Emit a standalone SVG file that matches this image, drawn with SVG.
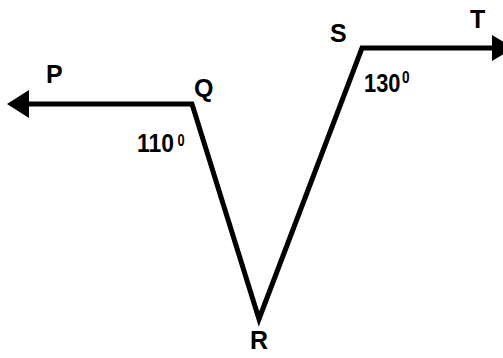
<svg xmlns="http://www.w3.org/2000/svg" width="503" height="358" viewBox="0 0 503 358">
<style>
.ln{fill:none;stroke:#000;stroke-width:5;stroke-linejoin:miter;stroke-linecap:butt}
.lbl{font-family:"Liberation Sans",Arial,sans-serif;font-weight:bold;font-size:25px;fill:#000}
.ang{font-family:"Liberation Sans",Arial,sans-serif;font-weight:bold;font-size:26px;fill:#000}
.sup{font-family:"Liberation Sans",Arial,sans-serif;font-weight:bold;font-size:16px;fill:#000}
.head{fill:#000}
</style>
<rect width="503" height="358" fill="#fff"/>
<g id="connectors">
<polyline class="ln" points="28,104 192,104 259,319 362,48 492,48"/>
<polygon class="head" points="7,104 29,90 29,118"/>
<polygon class="head" points="514,48 492,35 492,61"/>
</g>
<g id="P"><text class="lbl" x="46" y="83">P</text></g>
<g id="Q"><text class="lbl" x="194" y="97">Q</text></g>
<g id="R"><text class="lbl" x="250" y="349">R</text></g>
<g id="S"><text class="lbl" x="330" y="42">S</text></g>
<g id="T"><text class="lbl" x="470" y="28">T</text></g>
<g id="angleQ"><text class="ang" transform="translate(137,152) scale(0.88,1)">110</text><text class="sup" transform="translate(177.5,146) scale(0.8,1)">0</text></g>
<g id="angleS"><text class="ang" transform="translate(364,92) scale(0.84,1)">130</text><text class="sup" transform="translate(402,83) scale(0.85,1)">0</text></g>
</svg>
